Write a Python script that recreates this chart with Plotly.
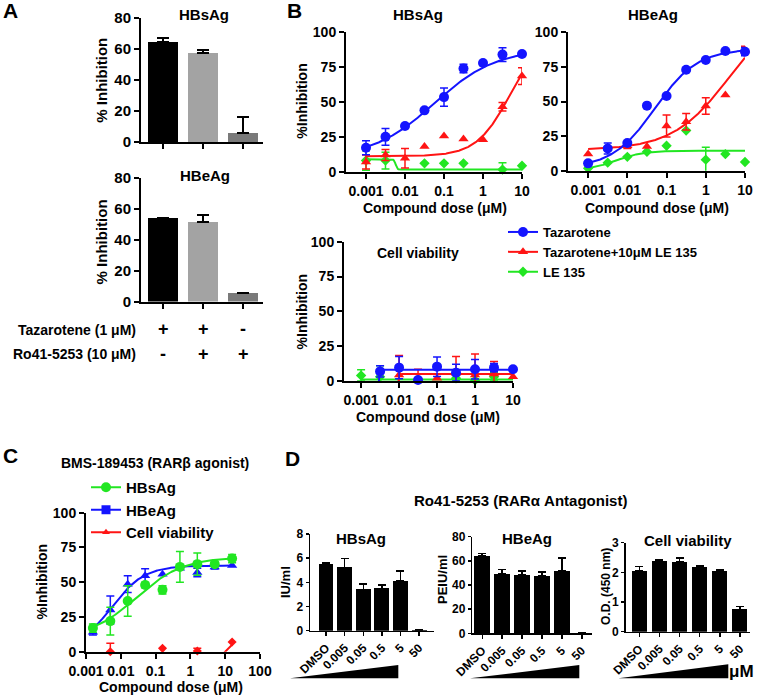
import numpy as np
import plotly.graph_objects as go

W, H = 777, 697
FONT = "Liberation Sans, Arial, sans-serif"
BLUE = "#1414ff"
RED = "#ff1414"
GREEN = "#22e622"

# ---------------- Panel A data ----------------
a_categories = [0, 1, 2]
a_hbsag = [64.5, 57.2, 5.8]
a_hbsag_err = [2.4, 2.2, 10.3]
a_hbeag = [54.0, 51.3, 5.5]
a_hbeag_err = [0.3, 4.5, 0.3]
a_bar_colors = ["#000000", "#a3a3a3", "#7a7a7a"]
a_tazarotene = ["+", "+", "-"]
a_ro41 = ["-", "+", "+"]

# ---------------- Panel B data ----------------
b_dose = [0.001, 0.00316, 0.01, 0.0316, 0.1, 0.316, 1, 3.16, 10]
b_dose_ticks = [0.001, 0.01, 0.1, 1, 10]
b_dose_ticktext = ["0.001", "0.01", "0.1", "1", "10"]

b_hbs_taz = [17.2, 25.0, 32.8, 44.0, 53.5, 74.0, 78.0, 84.0, 84.4]
b_hbs_taz_err = [5, 6, 1.5, 0, 6.5, 3, 0, 5, 0]
b_hbs_combo = [7.0, 12.0, 9.6, 18.0, 25.6, 23.5, 23.0, 46.6, 68.6]
b_hbs_combo_err = [5, 4, 7, 0, 0, 0, 0, 3, 6]
b_hbs_le = [8.0, 8.0, None, 6.0, 6.0, 6.0, None, 1.5, 4.3]
b_hbs_le_err = [7, 6, 0, 0, 0, 0, 0, 5, 0]

b_hbe_taz = [5.3, 16.0, 20.0, 47.0, 54.0, 73.0, 80.0, 86.5, 86.0]
b_hbe_taz_err = [0, 4, 1, 0, 0, 0, 0, 0, 3]
b_hbe_combo = [12.0, None, 18.0, 17.5, 32.3, 35.4, 46.7, 54.7, 87.0]
b_hbe_combo_err = [0, 0, 2, 0, 8, 6, 6, 0, 3]
b_hbe_le = [1.7, 5.8, 10.0, 13.7, 18.0, 29.0, 8.0, 12.0, 6.3]
b_hbe_le_err = [0, 0, 0, 0, 0, 0, 9, 0, 0]

b_cv_taz = [None, 6.9, 9.6, 0.7, 10.3, 6.0, 8.4, 9.6, 8.4]
b_cv_taz_err = [0, 4, 8, 0, 7, 6, 7, 3, 1]
b_cv_combo = [None, None, 4.3, 1.4, 2.0, 5.5, 4.3, 5.0, 3.1]
b_cv_combo_err = [0, 0, 14, 7, 0, 12, 15, 9, 0]
b_cv_le = [4.0, 3.0, None, None, None, 2.0, 0.5, 3.0, None]
b_cv_le_err = [4, 8, 0, 0, 0, 3, 0, 3, 0]

# 4-parameter logistic fits: [bottom, top, logEC50, hill]
fit_b_hbs_taz = [10, 88, -1.25, 0.55]
fit_b_hbs_combo = [11, 100, 0.7, 1.0]
fit_b_hbs_le = [9, 1.5, -2.24, 20]
fit_b_hbe_taz = [2, 88, -1.3, 0.8]
fit_b_hbe_combo = [15, 120, 0.6, 0.6]
fit_b_hbe_le = [0, 14.5, -2.3, 1.2]
fit_b_cv_taz = [-20, 8, -2.55, 30]
fit_b_cv_combo = [-20, 5, -2.05, 30]
fit_b_cv_le = [1, 1, 0, 1]

# ---------------- Panel C data ----------------
c_dose = [0.00158, 0.005, 0.0158, 0.05, 0.158, 0.5, 1.58, 5, 15.8]
c_ticks = [0.001, 0.01, 0.1, 1, 10, 100]
c_ticktext = ["0.001", "0.01", "0.1", "1", "10", "100"]
c_hbsag = [17.0, 22.0, 36.5, 48.0, 44.5, 61.0, 63.0, 63.0, 67.0]
c_hbsag_err = [3, 10, 11, 2, 3, 11, 8, 1.5, 3]
c_hbeag = [14.0, 30.0, 48.6, 54.6, 55.8, 60.0, 57.0, 61.0, 62.0]
c_hbeag_err = [2, 10, 6, 5, 0, 0, 3, 1.5, 0]
c_cv = [None, 0.0, None, None, 2.4, None, 0.5, None, 7.0]
c_cv_err = [0, 6, 0, 0, 0, 0, 2, 0, 0]
fit_c_hbsag = [10, 68, -1.55, 0.65]
fit_c_hbeag = [0, 62, -2.3, 0.9]
fit_c_cv = [-5, 10, 1.1, 3]

# ---------------- Panel D data ----------------
d_labels = ["DMSO", "0.005", "0.05", "0.5", "5", "50"]
d_hbsag = [5.5, 5.24, 3.42, 3.5, 4.1, 0.05]
d_hbsag_err = [0.1, 0.75, 0.45, 0.3, 0.85, 0]
d_hbeag = [64.0, 49.5, 48.3, 47.8, 51.5, 0.5]
d_hbeag_err = [2, 3.3, 3.5, 3, 11, 0]
d_cv = [2.05, 2.39, 2.36, 2.19, 2.05, 0.75]
d_cv_err = [0.15, 0.02, 0.12, 0.03, 0.03, 0.1]


def PX(x):
    return x / W


def PY(y):
    return 1 - y / H


def bold(size, color="black"):
    return dict(family=FONT, size=size, color=color, weight="bold")


def fit_curve(params, lo, hi, n=300):
    bottom, top, logec, hill = params
    xs = np.logspace(np.log10(lo), np.log10(hi), n)
    ys = bottom + (top - bottom) / (1 + 10 ** ((logec - np.log10(xs)) * hill))
    return xs, ys


fig = go.Figure()

# panel geometry in pixels: (x0, x1), (ytop, ybottom)
geom = {
    1: ((141, 263), (18, 142)),
    2: ((141, 263), (178, 301.5)),
    3: ((346, 522), (32.3, 171.7)),
    4: ((568, 745), (32.3, 170.7)),
    5: ((344, 513), (241.7, 381)),
    6: ((86, 260), (512.7, 651.7)),
    7: ((310, 434), (534, 630.7)),
    8: ((472.3, 591.7), (536.7, 633.3)),
    9: ((625.7, 750), (542.7, 631.7)),
}


def ax_common(**kw):
    d = dict(showline=True, linecolor="black", linewidth=2, ticks="outside",
             ticklen=5, tickwidth=2, tickcolor="black", showgrid=False,
             zeroline=False, tickfont=bold(14), fixedrange=True, automargin=False)
    d.update(kw)
    return d


layout_axes = {}


def set_axes(n, xkw, ykw):
    (x0, x1), (yt, yb) = geom[n]
    sx = "" if n == 1 else str(n)
    layout_axes["xaxis" + sx] = ax_common(domain=[PX(x0), PX(x1)], anchor="y" + sx, **xkw)
    layout_axes["yaxis" + sx] = ax_common(domain=[PY(yb), PY(yt)], anchor="x" + sx, **ykw)


def ids(n):
    sx = "" if n == 1 else str(n)
    return dict(xaxis="x" + sx, yaxis="y" + sx)


# ---------- Panel A ----------
for n, vals, errs in [(1, a_hbsag, a_hbsag_err), (2, a_hbeag, a_hbeag_err)]:
    fig.add_trace(go.Bar(
        x=a_categories, y=vals, width=0.75, marker=dict(color=a_bar_colors, line=dict(width=0)),
        error_y=dict(type="data", array=errs, arrayminus=[0] * len(errs), symmetric=False,
                     color="black", thickness=2, width=6),
        showlegend=False, **ids(n)))
    set_axes(n, dict(range=[-0.55, 2.5], tickvals=a_categories, showticklabels=False),
             dict(range=[0, 80], tickvals=[0, 20, 40, 60, 80], tickfont=bold(15)))


# ---------- Panel B ----------
def scatter_series(n, x, y, err, color, symbol, size, fit, lo, hi, name=None, legend=None,
                   legend_symbol=None):
    xs, ys = fit_curve(fit, lo, hi)
    fig.add_trace(go.Scatter(x=xs, y=ys, mode="lines", line=dict(color=color, width=2),
                             showlegend=False, hoverinfo="skip", **ids(n)))
    ex = [xi for xi, yi, ei in zip(x, y, err) if yi is not None and ei > 0]
    ey = [yi for xi, yi, ei in zip(x, y, err) if yi is not None and ei > 0]
    ee = [ei for xi, yi, ei in zip(x, y, err) if yi is not None and ei > 0]
    if ex:
        fig.add_trace(go.Scatter(x=ex, y=ey, mode="markers", marker=dict(size=1, opacity=0),
                                 error_y=dict(type="data", array=ee, color=color, thickness=1.5, width=4),
                                 showlegend=False, cliponaxis=False, hoverinfo="skip", **ids(n)))
    fig.add_trace(go.Scatter(x=x, y=y, mode="markers",
                             marker=dict(color=color, symbol=symbol, size=size, line=dict(width=0)),
                             showlegend=False, cliponaxis=False, **ids(n)))
    if name is not None:
        fig.add_trace(go.Scatter(x=[None], y=[None], mode="lines+markers", name=name, legend=legend,
                                 line=dict(color=color, width=2),
                                 marker=dict(color=color, symbol=legend_symbol or symbol, size=size),
                                 **ids(n)))


b_series = [
    (3, b_hbs_taz, b_hbs_taz_err, fit_b_hbs_taz, b_hbs_combo, b_hbs_combo_err, fit_b_hbs_combo,
     b_hbs_le, b_hbs_le_err, fit_b_hbs_le),
    (4, b_hbe_taz, b_hbe_taz_err, fit_b_hbe_taz, b_hbe_combo, b_hbe_combo_err, fit_b_hbe_combo,
     b_hbe_le, b_hbe_le_err, fit_b_hbe_le),
    (5, b_cv_taz, b_cv_taz_err, fit_b_cv_taz, b_cv_combo, b_cv_combo_err, fit_b_cv_combo,
     b_cv_le, b_cv_le_err, fit_b_cv_le),
]
for (n, t, te, tf, c, ce, cf, l, le, lf) in b_series:
    first = n == 3
    scatter_series(n, b_dose, l, le, GREEN, "diamond", 8, lf, 0.001, 10,
                   name="LE 135" if first else None, legend="legend")
    scatter_series(n, b_dose, c, ce, RED, "triangle-up", 9, cf, 0.001, 10,
                   name="Tazarotene+10\u03bcM LE 135" if first else None, legend="legend")
    scatter_series(n, b_dose, t, te, BLUE, "circle", 10, tf, 0.001, 10,
                   name="Tazarotene" if first else None, legend="legend")
    xr = [-3.45, 1.0] if n == 5 else [-3.513, 1.0]
    set_axes(n, dict(type="log", range=xr, tickvals=b_dose_ticks, ticktext=b_dose_ticktext),
             dict(range=[0, 100], tickvals=[0, 25, 50, 75, 100]))

# ---------- Panel C ----------
scatter_series(6, c_dose, c_cv, c_cv_err, RED, "diamond", 7, fit_c_cv, 0.00158, 15.8,
               name="Cell viability", legend="legend2", legend_symbol="triangle-up")
scatter_series(6, c_dose, c_hbeag, c_hbeag_err, BLUE, "triangle-up", 9, fit_c_hbeag, 0.00158, 15.8,
               name="HBeAg", legend="legend2", legend_symbol="square")
scatter_series(6, c_dose, c_hbsag, c_hbsag_err, GREEN, "circle", 10, fit_c_hbsag, 0.00158, 15.8,
               name="HBsAg", legend="legend2")
set_axes(6, dict(type="log", range=[-3, 2], tickvals=c_ticks, ticktext=c_ticktext),
         dict(range=[0, 100], tickvals=[0, 25, 50, 75, 100]))

# ---------- Panel D ----------
d_specs = [
    (7, d_hbsag, d_hbsag_err, [-0.86, 5.8], [0, 8], [0, 2, 4, 6, 8], 0.8),
    (8, d_hbeag, d_hbeag_err, [-0.5, 5.5], [0, 80], [0, 20, 40, 60, 80], 0.8),
    (9, d_cv, d_cv_err, [-0.68, 5.5], [0, 3], [0, 1, 2, 3], 0.75),
]
for n, vals, errs, xr, yr, yt, bw in d_specs:
    fig.add_trace(go.Bar(
        x=d_labels, y=vals, width=bw, marker=dict(color="black", line=dict(width=0)),
        error_y=dict(type="data", array=errs, arrayminus=[0] * len(errs), symmetric=False,
                     color="black", thickness=1.5, width=4),
        showlegend=False, **ids(n)))
    set_axes(n, dict(type="category", range=xr, tickangle=-45, tickfont=bold(12), linewidth=1.5,
                     tickwidth=1.5, ticklen=4),
             dict(range=yr, tickvals=yt, tickfont=bold(12), linewidth=1.5, tickwidth=1.5, ticklen=3))

# ---------- annotations ----------
anns = []


def ann(text, x, y, size, angle=0, xanchor="center", xref="paper"):
    anns.append(dict(text=text, x=x if xref != "paper" else PX(x), y=PY(y), xref=xref, yref="paper",
                     showarrow=False, font=bold(size), textangle=angle, xanchor=xanchor,
                     yanchor="middle"))


ann("A", 10.5, 10, 21)
ann("B", 294.5, 10, 21)
ann("C", 10, 455, 21)
ann("D", 292, 458.5, 21)

ann("HBsAg", 204, 15, 15)
ann("HBeAg", 205, 175, 15)
ann("% Inhibition", 101.7, 80, 15, angle=-90)
ann("% Inhibition", 101.7, 241.7, 15, angle=-90)
ann("Tazarotene (1 \u03bcM)", 138, 330, 14, xanchor="right")
ann("Ro41-5253 (10 \u03bcM)", 138, 354, 14, xanchor="right")
for i, s in enumerate(a_tazarotene):
    anns.append(dict(text=s, x=a_categories[i], y=PY(329), xref="x2", yref="paper", showarrow=False,
                     font=bold(18)))
for i, s in enumerate(a_ro41):
    anns.append(dict(text=s, x=a_categories[i], y=PY(354), xref="x2", yref="paper", showarrow=False,
                     font=bold(18)))

ann("HBsAg", 418, 15, 15)
ann("HBeAg", 652.5, 15, 15)
ann("Compound dose (\u03bcM)", 435, 208, 14)
ann("Compound dose (\u03bcM)", 656.7, 208, 14)
ann("Compound dose (\u03bcM)", 428, 417, 14)
ann("%Inhibition", 301.7, 101, 14, angle=-90)
ann("%Inhibition", 301.7, 311.7, 14, angle=-90)
ann("Cell viability", 417.5, 253, 14)

ann("BMS-189453 (RAR\u03b2 agonist)", 155, 463.3, 14)
ann("%Inhibition", 41.7, 581.7, 14, angle=-90)
ann("Compound dose (\u03bcM)", 171, 686.7, 14)

ann("Ro41-5253 (RAR\u03b1 Antagonist)", 520, 500, 15)
ann("HBsAg", 361, 538.3, 15)
ann("HBeAg", 526.7, 538.3, 15)
ann("Cell viability", 687.5, 540, 15)
ann("IU/ml", 285.5, 582.5, 13, angle=-90)
ann("PEIU/ml", 442, 580, 13, angle=-90)
ann("O.D. (450 nm)", 606, 587, 12, angle=-90)
ann("\u03bcM", 741, 671.7, 17)

# dose wedges below panel D bar charts
shapes = []
for (xl, xr_, ytop) in [(290, 398.3, 665), (470, 579.3, 665), (618.3, 728.3, 664.3)]:
    path = "M {:.5f},{:.5f} L {:.5f},{:.5f} L {:.5f},{:.5f} Z".format(
        PX(xl), PY(678.3), PX(xr_), PY(ytop), PX(xr_), PY(678.3))
    shapes.append(dict(type="path", path=path, xref="paper", yref="paper",
                       fillcolor="black", line=dict(width=0)))

fig.update_layout(
    width=W, height=H, autosize=False,
    margin=dict(l=0, r=0, t=0, b=0, pad=0, autoexpand=False),
    paper_bgcolor="white", plot_bgcolor="white",
    font=dict(family=FONT, color="black"),
    bargap=0,
    annotations=anns, shapes=shapes,
    legend=dict(x=PX(503), y=PY(217), xanchor="left", yanchor="top", font=bold(13),
                bgcolor="rgba(0,0,0,0)", itemwidth=30, traceorder="reversed"),
    legend2=dict(x=PX(86), y=PY(471), xanchor="left", yanchor="top", font=bold(15),
                 bgcolor="rgba(0,0,0,0)", itemwidth=30, traceorder="reversed"),
    **layout_axes,
)

fig.write_html("out.html", config={"displayModeBar": False, "staticPlot": True},
               post_script="document.body.style.margin='0px';document.body.style.overflow='hidden';")
